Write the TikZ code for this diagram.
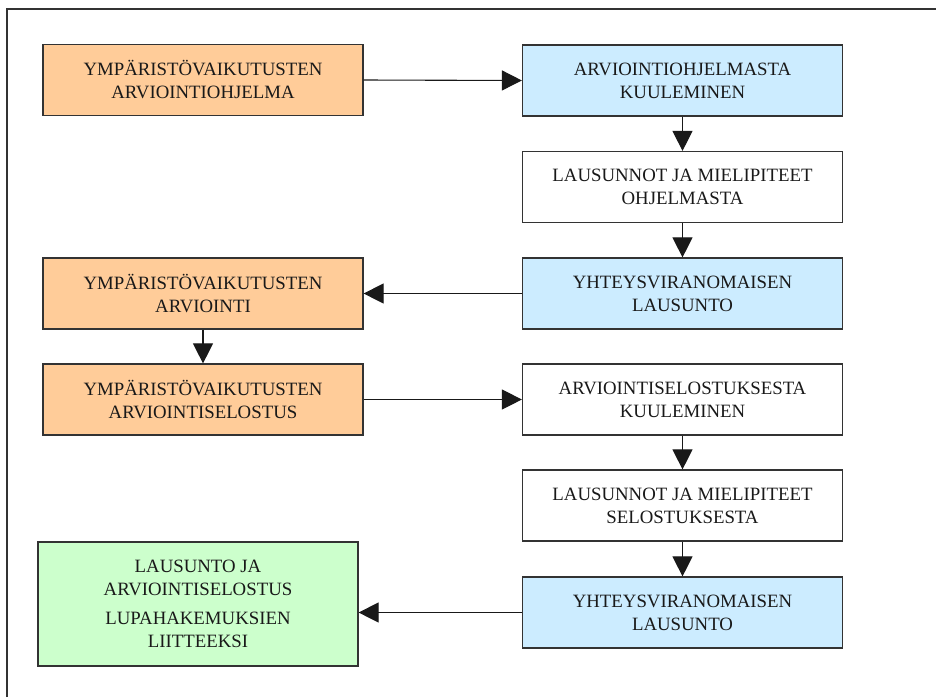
\documentclass[tikz,border=0pt]{standalone}
\usepackage{fontspec}
\setmainfont{Liberation Serif}
\usetikzlibrary{arrows.meta}
\definecolor{orangebox}{HTML}{FFCC99}
\definecolor{bluebox}{HTML}{CCECFF}
\definecolor{greenbox}{HTML}{CCFFCC}
\definecolor{frameline}{HTML}{333333}
\begin{document}
\begin{tikzpicture}[x=1pt,y=-1pt,
  box/.style={draw=black!80,line width=1.2pt,minimum width=320pt,minimum height=71pt,
    inner sep=0pt,align=center,font=\fontsize{18.8}{23}\selectfont,text=black!90},
  obox/.style={box,fill=orangebox},
  bbox/.style={box,fill=bluebox},
  wbox/.style={box,fill=white},
  gbox/.style={box,fill=greenbox,minimum height=124pt},
  conn/.style={draw=black!90,line width=1.1pt,-{Triangle[length=20pt,width=20pt]}}]
\useasboundingbox (0,0) rectangle (936,697);
\draw[frameline,line width=2.2pt] (7,697) -- (7,9) -- (936,9);
\node[obox] (a) at (203,80) {YMPÄRISTÖVAIKUTUSTEN\\ARVIOINTIOHJELMA};
\node[bbox] (b) at (682.5,80.5) {ARVIOINTIOHJELMASTA\\KUULEMINEN};
\node[wbox] (c) at (682.5,187) {LAUSUNNOT JA MIELIPITEET\\OHJELMASTA};
\node[bbox] (d) at (682.5,293.5) {YHTEYSVIRANOMAISEN\\LAUSUNTO};
\node[obox] (e) at (203,293.5) {YMPÄRISTÖVAIKUTUSTEN\\ARVIOINTI};
\node[obox] (f) at (203,399.5) {YMPÄRISTÖVAIKUTUSTEN\\ARVIOINTISELOSTUS};
\node[wbox] (g) at (682.5,399.5) {ARVIOINTISELOSTUKSESTA\\KUULEMINEN};
\node[wbox] (h) at (682.5,505.5) {LAUSUNNOT JA MIELIPITEET\\SELOSTUKSESTA};
\node[bbox] (i) at (682.5,612.5) {YHTEYSVIRANOMAISEN\\LAUSUNTO};
\node[gbox] (j) at (198,604) {LAUSUNTO JA\\ARVIOINTISELOSTUS\\[6pt]LUPAHAKEMUKSIEN\\LIITTEEKSI};
\draw[conn] (a.east) -- (b.west);
\draw[conn] (b.south) -- (c.north);
\draw[conn] (c.south) -- (d.north);
\draw[conn] (d.west) -- (e.east);
\draw[conn] (e.south) -- (f.north);
\draw[conn] (f.east) -- (g.west);
\draw[conn] (g.south) -- (h.north);
\draw[conn] (h.south) -- (i.north);
\draw[conn] (i.west) -- (i.west -| j.east);
\end{tikzpicture}
\end{document}
